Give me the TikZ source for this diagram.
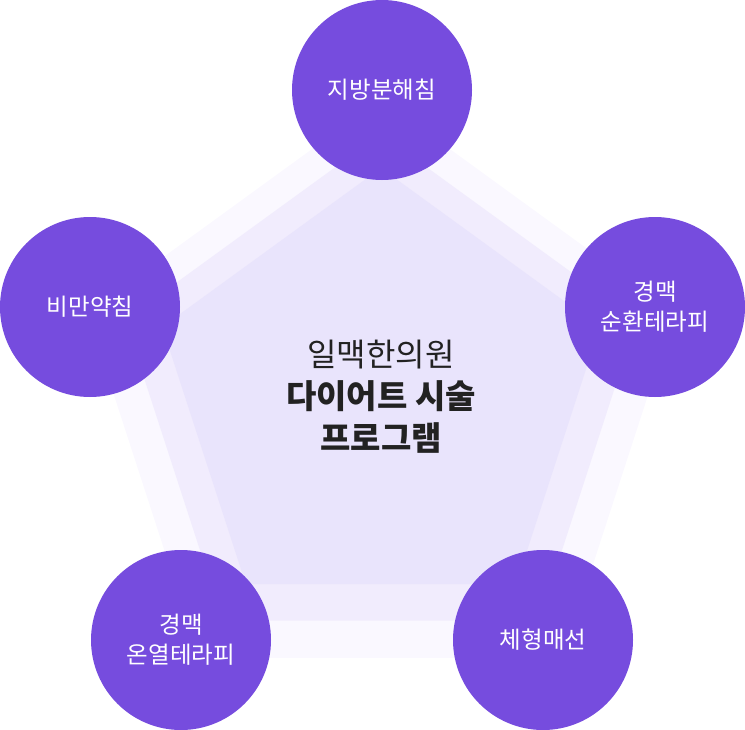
\documentclass[tikz,border=0pt]{standalone}
\usepackage{fontspec}
\setmainfont{Noto Sans CJK KR}
\usetikzlibrary{positioning, shapes.geometric}

\definecolor{circlepurple}{HTML}{764CDE}
\definecolor{layerinner}{HTML}{E9E4FC}
\definecolor{layermiddle}{HTML}{F1ECFD}
\definecolor{layerouter}{HTML}{FAF8FF}
\definecolor{titledark}{HTML}{222222}

\begin{document}
\begin{tikzpicture}[
		x=1bp, y=-1bp,
		% Layer Styles
		layer_pent/.style={regular polygon, regular polygon sides=5, draw=none, inner sep=0pt, outer sep=0pt},
		% Item Styles
		item_circle/.style={circle, fill=circlepurple, draw=none, minimum size=180bp, inner sep=0pt, text=white, align=center, font=\fontsize{23.5bp}{30bp}\selectfont},
		title_text/.style={align=center, text=titledark, font=\fontsize{32bp}{42bp}\selectfont}
		]
		\useasboundingbox (0,0) rectangle (745,730);
		
		% --- 1. BACKGROUND LAYERS ---
		\node[layer_pent, fill=layerouter, minimum size=618bp] (PentOuter) at (381,408) {};
		\node[layer_pent, fill=layermiddle, minimum size=538bp] (PentMiddle) at (381,403) {};
		\node[layer_pent, fill=layerinner, minimum size=460bp] (PentInner) at (381,398) {};
		
		% --- 2. TITLE ---
		\node[title_text] (Title) at (381,397) {일맥한의원\\{\fontsize{33bp}{42bp}\selectfont\bfseries 다이어트 시술}\\{\fontsize{33bp}{42bp}\selectfont\bfseries 프로그램}};
		
		% --- 3. TREATMENTS ---
		\node[item_circle] (Lipo) at (382,90) {지방분해침};
		\node[item_circle] (Herbal) at (90,307) {비만약침};
		\node[item_circle] (Circ) at (655,307) {경맥\\순환테라피};
		\node[item_circle] (Thermo) at (181,640) {경맥\\온열테라피};
		\node[item_circle] (Thread) at (543,640) {체형매선};
		
	\end{tikzpicture}
\end{document}
